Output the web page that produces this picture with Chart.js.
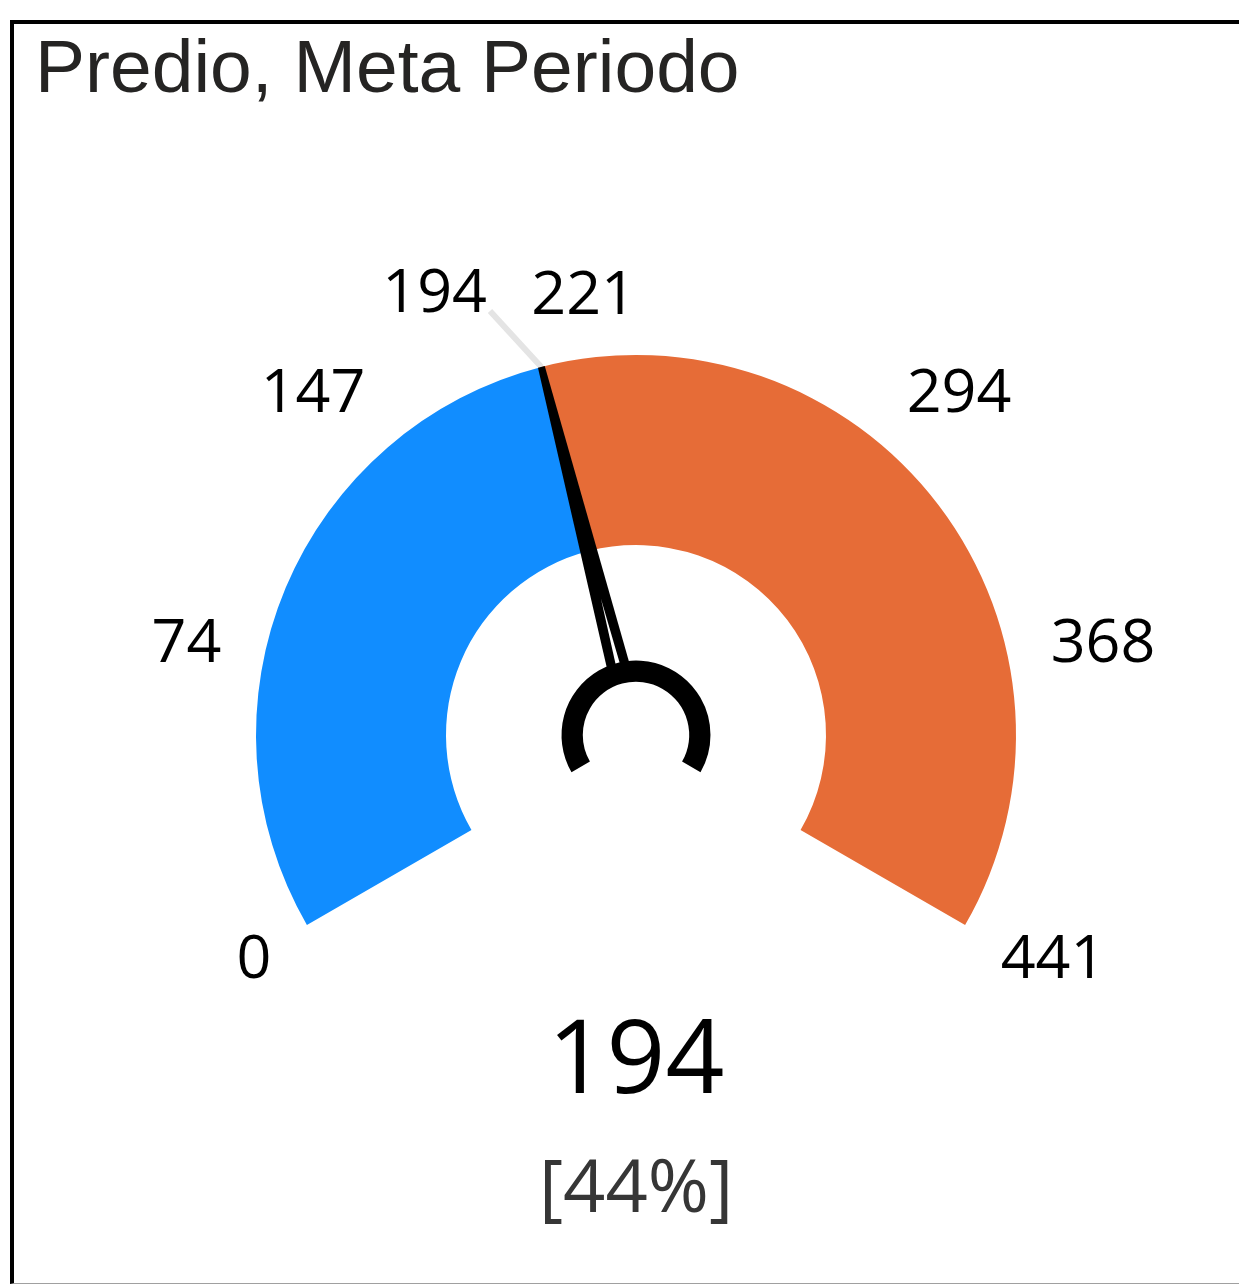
<!DOCTYPE html>
<html>
<head>
<meta charset="utf-8">
<title>Predio, Meta Periodo</title>
<script src="https://cdn.jsdelivr.net/npm/chart.js@4/dist/chart.umd.min.js"></script>
<style>
  html, body { margin: 0; padding: 0; background: #fff; width: 1239px; height: 1285px; overflow: hidden; }
  #gauge { position: absolute; left: 0; top: 0; }
  #frame {
    position: absolute; left: 10px; top: 20px; width: 1229px; height: 1264px;
    border-left: 4px solid #000; border-top: 4px solid #000; border-bottom: 1px solid #a0a0a0;
    box-sizing: border-box; pointer-events: none;
  }
</style>
</head>
<body>
<canvas id="gauge" width="1239" height="1285"></canvas>
<div id="frame"></div>
<script>
// Gauge data
const titleText = 'Predio, Meta Periodo';
const gaugeMin = 0;
const gaugeMax = 441;
const actualValue = 194;
const segmentNames = ['Valor', 'Restante'];
const segmentColors = ['#118DFF', '#E66C37'];
const tickValues = [0, 73.5, 147, 220.5, 294, 367.5, 441];
const tickLabels = ['0', '74', '147', '221', '294', '368', '441'];

const segmentValues = [actualValue - gaugeMin, gaugeMax - actualValue];
const percentText = '[' + Math.round((actualValue - gaugeMin) / (gaugeMax - gaugeMin) * 100) + '%]';

const labelFont = '61px "Open Sans", "Noto Sans", sans-serif';

// Needle, hub ring, scale labels and captions drawn around the doughnut arcs
const gaugeDecor = {
  id: 'gaugeDecor',
  afterDraw(chart) {
    const ctx = chart.ctx;
    const arcs = chart.getDatasetMeta(0).data;
    const cx = arcs[0].x, cy = arcs[0].y, R = arcs[0].outerRadius;
    const a0 = arcs[0].startAngle, a1 = arcs[arcs.length - 1].endAngle;
    const angleOf = v => a0 + (v - gaugeMin) / (gaugeMax - gaugeMin) * (a1 - a0);
    const pt = (r, a) => [cx + r * Math.cos(a), cy + r * Math.sin(a)];

    ctx.save();

    // scale labels
    ctx.font = labelFont;
    ctx.fillStyle = '#000';
    const rl = R * 1.108;
    tickValues.forEach((v, i) => {
      const a = angleOf(v);
      const [x, y] = pt(rl, a);
      const c = Math.cos(a);
      ctx.textAlign = c > 0.01 ? 'left' : 'right';
      ctx.textBaseline = 'alphabetic';
      const yb = Math.sin(a) > 0.05 ? y + 32 : y;
      ctx.fillText(tickLabels[i], x, yb);
    });

    // needle angle
    const na = angleOf(actualValue);
    const ux = Math.cos(na), uy = Math.sin(na);
    const px = -uy, py = ux;

    // leader line to the value label
    const [tx, ty] = pt(R, na);
    const [lx, ly] = pt(R * 1.18, na - 0.08);
    ctx.strokeStyle = '#e4e4e4';
    ctx.lineWidth = 6;
    ctx.beginPath();
    ctx.moveTo(tx, ty);
    ctx.lineTo(lx, ly);
    ctx.stroke();
    ctx.fillStyle = '#000';
    ctx.textAlign = 'right';
    ctx.textBaseline = 'alphabetic';
    ctx.fillText(String(actualValue), lx - 3, ly + 1);

    // needle body
    const rTip = R, rBase = R * 0.19;
    const wTip = 3.5, wBase = 11.5;
    ctx.fillStyle = '#000';
    ctx.beginPath();
    ctx.moveTo(cx + ux * rTip + px * wTip, cy + uy * rTip + py * wTip);
    ctx.lineTo(cx + ux * rTip - px * wTip, cy + uy * rTip - py * wTip);
    ctx.lineTo(cx + ux * rBase - px * wBase, cy + uy * rBase - py * wBase);
    ctx.lineTo(cx + ux * rBase + px * wBase, cy + uy * rBase + py * wBase);
    ctx.closePath();
    ctx.fill();

    // inner highlight of the needle
    const rSl = R * 0.37, wSl = 2.2;
    ctx.fillStyle = '#fff';
    ctx.beginPath();
    ctx.moveTo(cx + ux * rSl, cy + uy * rSl);
    ctx.lineTo(cx + ux * rBase - px * wSl, cy + uy * rBase - py * wSl);
    ctx.lineTo(cx + ux * rBase + px * wSl, cy + uy * rBase + py * wSl);
    ctx.closePath();
    ctx.fill();

    // hub ring
    ctx.fillStyle = '#000';
    ctx.beginPath();
    ctx.arc(cx, cy, R * 0.196, a0, a1);
    ctx.arc(cx, cy, R * 0.14, a1, a0, true);
    ctx.closePath();
    ctx.fill();

    // title
    ctx.font = '75px "Liberation Sans", Arial, sans-serif';
    ctx.fillStyle = '#252423';
    ctx.textAlign = 'left';
    ctx.textBaseline = 'alphabetic';
    ctx.fillText(titleText, 35, 92);

    // current value and share
    ctx.textAlign = 'center';
    ctx.font = '103px "Open Sans", "Noto Sans", sans-serif';
    ctx.fillStyle = '#000';
    ctx.fillText(String(actualValue), cx, cy + 358);
    ctx.font = '74px "Open Sans", "Noto Sans", sans-serif';
    ctx.fillStyle = '#363636';
    ctx.fillText(percentText, cx, cy + 477);

    ctx.restore();
  }
};

new Chart(document.getElementById('gauge'), {
  type: 'doughnut',
  data: {
    labels: segmentNames,
    datasets: [{
      data: segmentValues,
      backgroundColor: segmentColors,
      borderWidth: 0,
      hoverOffset: 0
    }]
  },
  options: {
    responsive: false,
    animation: false,
    events: [],
    rotation: -120,
    circumference: 240,
    cutout: '50%',
    layout: { padding: { left: 256, right: 223, top: 355, bottom: 360 } },
    plugins: {
      legend: { display: false },
      title: { display: false },
      tooltip: { enabled: false }
    }
  },
  plugins: [gaugeDecor]
});
</script>
</body>
</html>
